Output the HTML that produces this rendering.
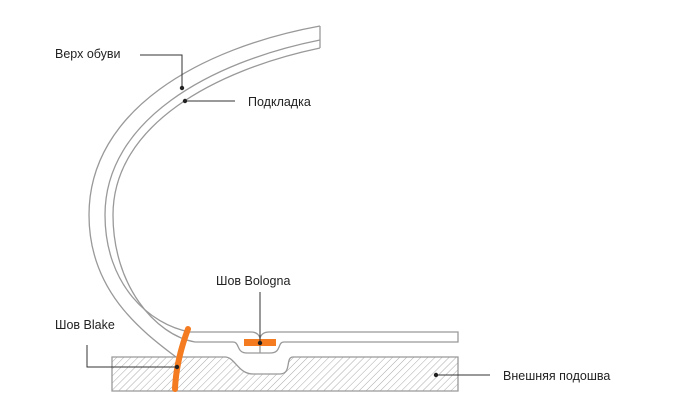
<!DOCTYPE html>
<html><head><meta charset="utf-8"><style>
html,body{margin:0;padding:0;background:#fff;}
svg{display:block;}
text{font-family:"Liberation Sans","DejaVu Sans",sans-serif;font-size:12.5px;fill:#222;}
</style></head><body>
<svg width="700" height="420" viewBox="0 0 700 420" xmlns="http://www.w3.org/2000/svg">
<defs>
<pattern id="h" width="5" height="5" patternUnits="userSpaceOnUse" patternTransform="rotate(45)">
<line x1="0" y1="0" x2="0" y2="5" stroke="#aaa" stroke-width="1"/>
</pattern>
</defs>
<g fill="none" stroke="#999" stroke-width="1.3">
<path d="M112,357 L225,357 C235,357 238,374 253,374 L280,374 C292,374 285,357 293,357 L458,357 L458,391 L112,391 Z" fill="url(#h)"/>
<path d="M320,26 C200,48 89,110 89,215 C89,290 140,330 176,357"/>
<path d="M320,40 C210,62 105,120 105,215 C105,285 150,325 190,332 L251,332 Q258,332 260,338 Q262,332 269,332 L458,332 L458,342 L284,342 C277,342 282,353 270,353 L247,353 C236,353 240,342 233,342 L195,342"/>
<path d="M320,48 C215,70 113,125 113,215 C113,285 155,335 195,342"/>
<line x1="320" y1="26" x2="320" y2="48"/>
<line x1="260" y1="338" x2="260" y2="353"/>
</g>
<path d="M188,329 C182,345 176,365 175,389" stroke="#f47b20" stroke-width="6" fill="none" stroke-linecap="round"/>
<rect x="244" y="339" width="32" height="7" fill="#f47b20"/>
<g stroke="#333" stroke-width="1" fill="none">
<polyline points="140,55 182,55 182,88"/>
<line x1="185" y1="101" x2="235" y2="101"/>
<line x1="260" y1="292" x2="260" y2="343"/>
<polyline points="87,345 87,367 177,367"/>
<line x1="436" y1="375" x2="490" y2="375"/>
</g>
<g fill="#222">
<circle cx="182" cy="88" r="2.2"/>
<circle cx="185" cy="101" r="2.2"/>
<circle cx="260" cy="343" r="2.2"/>
<circle cx="177" cy="367" r="2.2"/>
<circle cx="436" cy="375" r="2.2"/>
</g>
<text x="55" y="58">Верх обуви</text>
<text x="248" y="106">Подкладка</text>
<text x="216" y="285">Шов Bologna</text>
<text x="55" y="329">Шов Blake</text>
<text x="503" y="380">Внешняя подошва</text>
</svg>
</body></html>
